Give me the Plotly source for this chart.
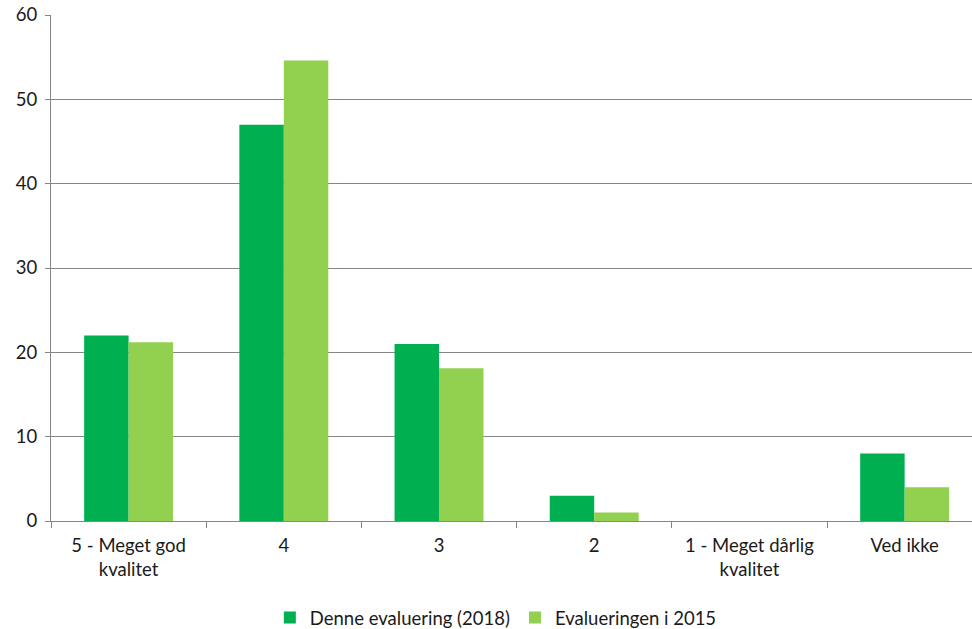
import plotly.graph_objects as go

categories = ["5 - Meget god<br>kvalitet", "4", "3", "2", "1 - Meget dårlig<br>kvalitet", "Ved ikke"]
series_2018 = [22, 47, 21, 3, 0, 8]
series_2015 = [21.2, 54.6, 18.1, 1, 0, 4]
name_2018 = "Denne evaluering (2018)"
name_2015 = "Evalueringen i 2015"

FONT = "Lato, 'Open Sans', sans-serif"
GRID = "#868686"

fig = go.Figure()
fig.add_trace(go.Bar(x=categories, y=series_2018, name=name_2018, marker_color="#00B050", marker_line_width=0))
fig.add_trace(go.Bar(x=categories, y=series_2015, name=name_2015, marker_color="#92D050", marker_line_width=0))

fig.update_layout(
    width=972, height=629,
    margin=dict(l=51, r=0, t=15, b=108),
    paper_bgcolor="white", plot_bgcolor="white",
    barmode="group", bargap=0.427, bargroupgap=0,
    font=dict(family=FONT, size=18.5, color="#1a1a1a"),
    legend=dict(orientation="h", x=0.483, xanchor="center", yref="container", y=1 - 618 / 629,
                yanchor="middle", font=dict(size=18.5), traceorder="normal", itemwidth=30),
    showlegend=True,
)
fig.update_xaxes(range=[-0.5, 5.434], showline=True, linecolor=GRID, linewidth=1, ticks="outside",
                 tickson="boundaries", ticklen=6, tickcolor=GRID, showgrid=False,
                 tickfont=dict(size=18.5), ticklabelstandoff=8)
fig.update_yaxes(range=[0, 60], dtick=10, showgrid=True, gridcolor=GRID, gridwidth=1,
                 showline=True, linecolor=GRID, linewidth=1, ticks="outside", ticklen=5,
                 tickcolor=GRID, zeroline=False, tickfont=dict(size=18.5), ticklabelstandoff=4)

fig.write_html("out.html", config={"displayModeBar": False},
               post_script="document.body.style.margin='0px';")
